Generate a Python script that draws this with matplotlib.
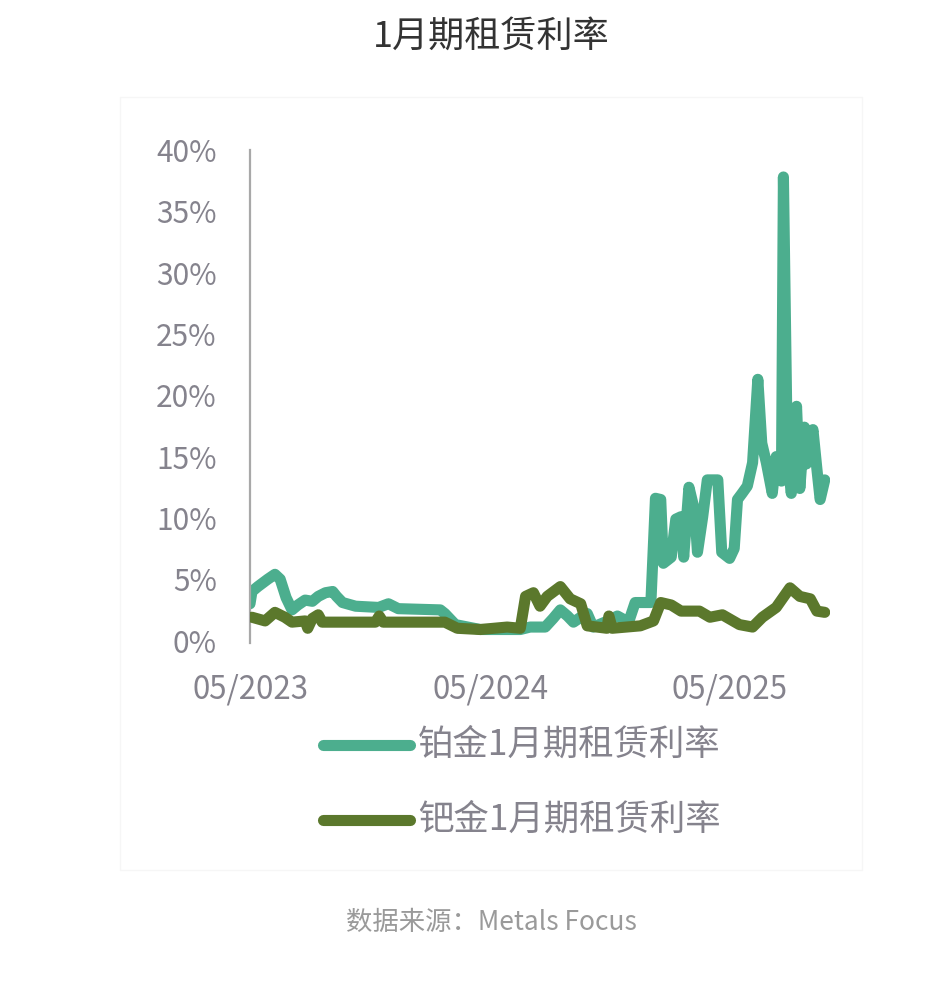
import matplotlib
matplotlib.use("Agg")
import matplotlib.pyplot as plt
import matplotlib.dates as mdates
from matplotlib.lines import Line2D
from matplotlib.patches import Rectangle
import pandas as pd

plt.rcParams['font.family'] = ['Noto Sans CJK SC', 'DejaVu Sans']

# 铂金1月期租赁利率 (%)
pt_dates = ["2023-05-01", "2023-05-04", "2023-05-13", "2023-05-28", "2023-06-08", "2023-06-16",
            "2023-06-25", "2023-07-04", "2023-07-13", "2023-07-24", "2023-08-04",
            "2023-08-13", "2023-08-24", "2023-09-04", "2023-09-10", "2023-09-19",
            "2023-10-09", "2023-11-13", "2023-11-28", "2023-12-13", "2024-02-15",
            "2024-02-22", "2024-03-09", "2024-04-16", "2024-06-16", "2024-07-01",
            "2024-07-24", "2024-08-05", "2024-08-16", "2024-08-27", "2024-09-05",
            "2024-09-16", "2024-09-26", "2024-10-05", "2024-10-23", "2024-11-11",
            "2024-11-28", "2024-12-08", "2025-01-01", "2025-01-08", "2025-01-16",
            "2025-01-20", "2025-02-01", "2025-02-08", "2025-02-16", "2025-02-20",
            "2025-02-28", "2025-03-09", "2025-03-13", "2025-03-21", "2025-03-28",
            "2025-04-13", "2025-04-19", "2025-05-01", "2025-05-08", "2025-05-13",
            "2025-05-20", "2025-05-28", "2025-06-05", "2025-06-13", "2025-06-19",
            "2025-06-26", "2025-07-05", "2025-07-11", "2025-07-19", "2025-07-22",
            "2025-07-28", "2025-08-03", "2025-08-11", "2025-08-16", "2025-08-23",
            "2025-08-26", "2025-09-05", "2025-09-11", "2025-09-16", "2025-09-23"]
pt_rates = [3.0, 4.0, 4.4, 5.0, 5.4, 5.0,
            3.5, 2.5, 2.9, 3.3, 3.2,
            3.6, 3.9, 4.0, 3.6, 3.1,
            2.8, 2.7, 3.0, 2.6, 2.5,
            2.2, 1.3, 0.9, 0.9, 1.1,
            1.1, 1.8, 2.5, 2.0, 1.5,
            1.9, 2.2, 1.1, 1.5, 2.0,
            1.5, 3.1, 3.1, 11.6, 11.5,
            6.3, 6.8, 9.9, 10.1, 6.8,
            12.5, 10.5, 7.2, 10.1, 13.1,
            13.1, 7.2, 6.7, 7.5, 11.5,
            12.0, 12.6, 14.5, 21.3, 16.1,
            14.5, 12.0, 15.0, 13.0, 37.8,
            15.0, 12.0, 19.1, 12.4, 17.4,
            14.4, 17.2, 14.0, 11.5, 13.1]

# 钯金1月期租赁利率 (%)
pd_dates = ["2023-05-04", "2023-05-24", "2023-06-08", "2023-06-23", "2023-07-04",
            "2023-07-24", "2023-07-28", "2023-08-04", "2023-08-13", "2023-08-19",
            "2023-11-08", "2023-11-14", "2023-11-20", "2024-02-22", "2024-03-12",
            "2024-04-16", "2024-05-27", "2024-06-16", "2024-06-24", "2024-07-06",
            "2024-07-16", "2024-07-27", "2024-08-16", "2024-08-31", "2024-09-16",
            "2024-09-26", "2024-10-26", "2024-10-29", "2024-11-03", "2024-12-16",
            "2025-01-05", "2025-01-16", "2025-02-01", "2025-02-16", "2025-03-16",
            "2025-04-01", "2025-04-20", "2025-05-16", "2025-06-05", "2025-06-20",
            "2025-07-11", "2025-08-01", "2025-08-16", "2025-09-01", "2025-09-11",
            "2025-09-23"]
pd_rates = [1.9, 1.6, 2.3, 1.9, 1.5,
            1.6, 1.0, 1.8, 2.1, 1.5,
            1.5, 2.0, 1.5, 1.5, 1.0,
            0.9, 1.1, 1.0, 3.6, 3.9,
            2.8, 3.6, 4.4, 3.4, 3.0,
            1.2, 1.0, 2.0, 1.0, 1.2,
            1.6, 3.1, 2.9, 2.4, 2.4,
            1.9, 2.1, 1.3, 1.1, 1.9,
            2.7, 4.3, 3.6, 3.4, 2.4,
            2.3]

x_ticks = ["2023-05-01", "2024-05-01", "2025-05-01"]
y_ticks = [0, 5, 10, 15, 20, 25, 30, 35, 40]

labels = ["铂金1月期租赁利率", "钯金1月期租赁利率"]
colors = ["#4cae8e", "#5b782c"]
gray = "#85838d"

W, H = 944, 981
fig = plt.figure(figsize=(W / 100, H / 100), dpi=100)

# faint frame around the chart area
fig.add_artist(Rectangle((120 / W, 1 - 870 / H), 742 / W, 773 / H,
                         transform=fig.transFigure, fill=False,
                         edgecolor="#f6f6f6", linewidth=1))

ax = fig.add_axes([250 / W, 1 - 643 / H, 580 / W, 493 / H])

ax.plot(pd.to_datetime(pt_dates), pt_rates, color=colors[0], lw=8,
        solid_joinstyle="round", solid_capstyle="round", zorder=2)
ax.plot(pd.to_datetime(pd_dates), pd_rates, color=colors[1], lw=8,
        solid_joinstyle="round", solid_capstyle="round", zorder=3)

ax.set_xlim(pd.Timestamp("2023-05-01"), pd.Timestamp("2025-10-01"))
ax.set_ylim(-0.2, 40)
ax.set_xticks(pd.to_datetime(x_ticks))
ax.xaxis.set_major_formatter(mdates.DateFormatter("%m/%Y"))
ax.set_yticks(y_ticks)
ax.set_yticklabels([f"{v}%" for v in y_ticks])
ax.tick_params(axis="both", length=0, labelcolor=gray)
ax.tick_params(axis="y", pad=24, labelsize=21.5)
ax.tick_params(axis="x", pad=22, labelsize=22.5)
for t in ax.get_xticklabels() + ax.get_yticklabels():
    t.set_fontweight("medium")

for s in ["top", "right", "bottom"]:
    ax.spines[s].set_visible(False)
ax.spines["left"].set_color("#a8a8a8")
ax.spines["left"].set_linewidth(1.6)

# legend
for i, (lab, c) in enumerate(zip(labels, colors)):
    yy = 1 - (745 + 75 * i) / H
    fig.add_artist(Line2D([323 / W, 410 / W], [yy, yy], transform=fig.transFigure,
                          color=c, lw=8, solid_capstyle="round"))
    fig.text(418 / W, yy, lab, fontsize=25.5, color=gray, va="center", ha="left",
             fontweight="medium")

fig.text(491 / W, 1 - 37 / H, "1月期租赁利率", fontsize=26, color="#333333",
         ha="center", va="center")
fig.text(491 / W, 1 - 922 / H, "数据来源：Metals Focus", fontsize=19,
         color="#9a9a9a", ha="center", va="center")

fig.savefig("out.png", dpi=100)
